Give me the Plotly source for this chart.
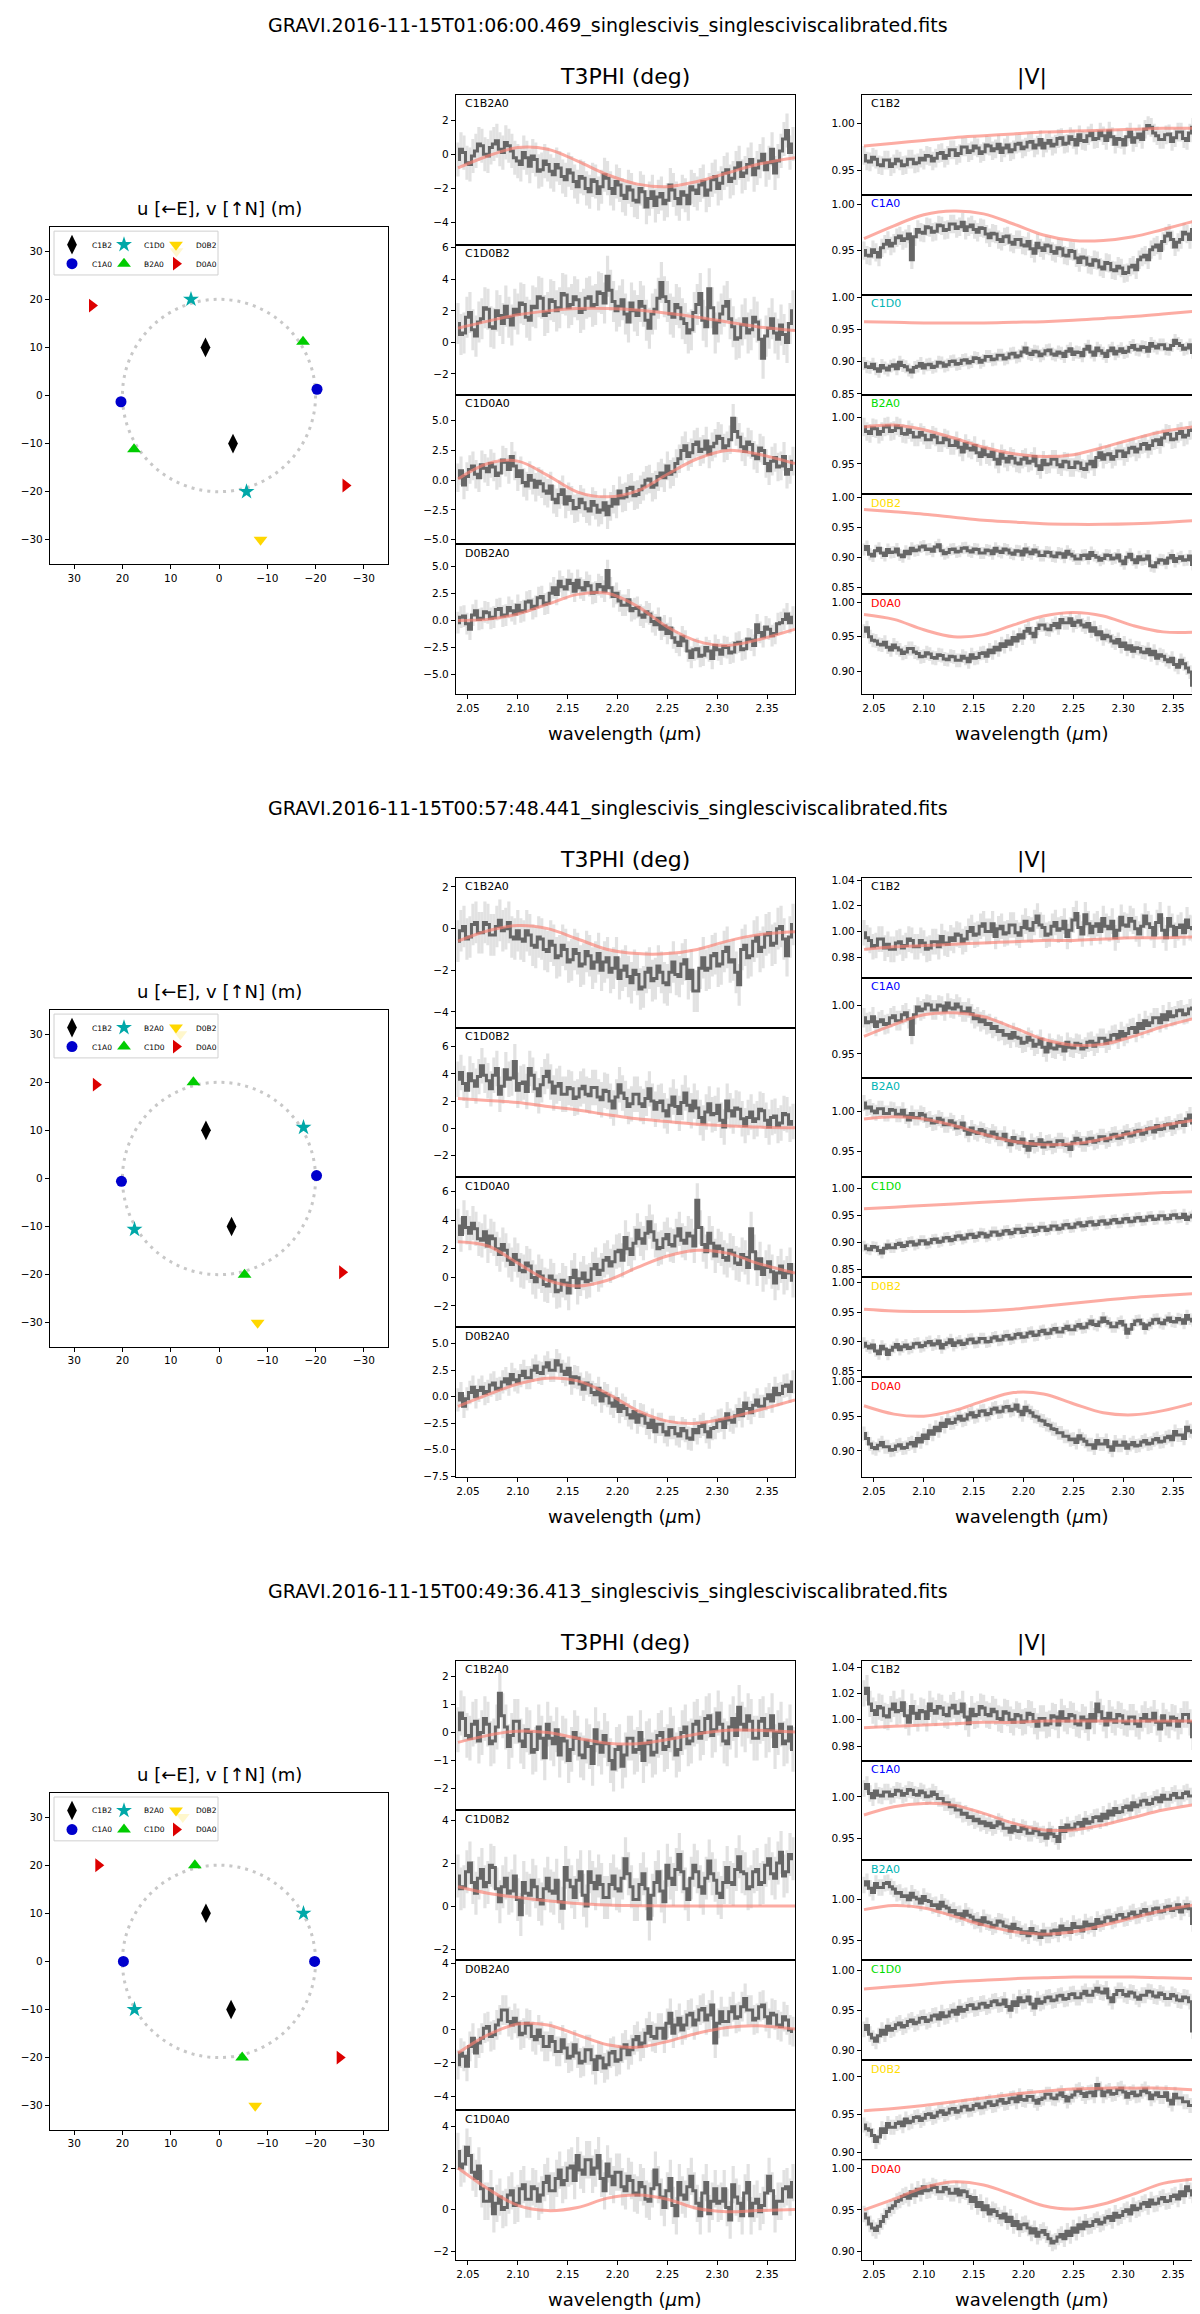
import plotly.graph_objects as go

# page size in px
W, H = 1200, 2314

WAVE = [2.040, 2.043, 2.046, 2.049, 2.052, 2.055, 2.058, 2.061, 2.064, 2.067,
        2.070, 2.073, 2.076, 2.079, 2.082, 2.085, 2.088, 2.091, 2.094, 2.097,
        2.100, 2.103, 2.106, 2.109, 2.112, 2.115, 2.118, 2.121, 2.124, 2.127,
        2.130, 2.133, 2.136, 2.139, 2.142, 2.145, 2.148, 2.151, 2.154, 2.157,
        2.160, 2.163, 2.166, 2.169, 2.172, 2.175, 2.178, 2.181, 2.184, 2.187,
        2.190, 2.193, 2.196, 2.199, 2.202, 2.205, 2.208, 2.211, 2.214, 2.217,
        2.220, 2.223, 2.226, 2.229, 2.232, 2.235, 2.238, 2.241, 2.244, 2.247,
        2.250, 2.253, 2.256, 2.259, 2.262, 2.265, 2.268, 2.271, 2.274, 2.277,
        2.280, 2.283, 2.286, 2.289, 2.292, 2.295, 2.298, 2.301, 2.304, 2.307,
        2.310, 2.313, 2.316, 2.319, 2.322, 2.325, 2.328, 2.331, 2.334, 2.337,
        2.340, 2.343, 2.346, 2.349, 2.352, 2.355, 2.358, 2.361, 2.364, 2.367,
        2.370, 2.373, 2.376]
MODEL_WAVE = [2.040, 2.070, 2.100, 2.130, 2.160, 2.190, 2.220, 2.250, 2.280, 2.310, 2.340, 2.378]

FILES = ["GRAVI.2016-11-15T01:06:00.469_singlescivis_singlesciviscalibrated.fits",
         "GRAVI.2016-11-15T00:57:48.441_singlescivis_singlesciviscalibrated.fits",
         "GRAVI.2016-11-15T00:49:36.413_singlescivis_singlesciviscalibrated.fits"]

T3_NAMES = [["C1B2A0", "C1D0B2", "C1D0A0", "D0B2A0"],
            ["C1B2A0", "C1D0B2", "C1D0A0", "D0B2A0"],
            ["C1B2A0", "C1D0B2", "D0B2A0", "C1D0A0"]]
V_NAMES = [["C1B2", "C1A0", "C1D0", "B2A0", "D0B2", "D0A0"],
           ["C1B2", "C1A0", "B2A0", "C1D0", "D0B2", "D0A0"],
           ["C1B2", "C1A0", "B2A0", "C1D0", "D0B2", "D0A0"]]

# ---------- block 1 : 01:06:00 ----------
B1_T3_1 = [-0.3, 0.3, 0.1, -0.5, -0.6, -0.1, 0.2, 0.6, 0.5, 0.0,
           -0.1, 0.4, 0.6, 0.8, 0.3, 0.1, 0.7, 0.5, 0.2, -0.2,
           -0.4, -0.6, 0.1, -0.2, -0.7, -0.1, -0.3, -1.0, -0.9, -0.4,
           -0.6, -1.0, -1.2, -0.6, -0.8, -1.3, -1.5, -0.9, -1.1, -1.6,
           -1.9, -1.3, -1.4, -2.0, -2.2, -1.5, -1.6, -2.3, -1.9, -1.2,
           -1.4, -2.0, -2.3, -1.6, -1.8, -2.4, -2.6, -1.9, -2.1, -2.7,
           -2.8, -2.0, -2.2, -3.1, -2.6, -2.2, -3.0, -2.5, -2.3, -2.9,
           -2.7, -1.8, -2.1, -2.6, -2.9, -2.2, -2.4, -2.9, -1.9, -2.1,
           -2.3, -1.8, -1.6, -2.4, -2.1, -1.5, -1.3, -2.0, -1.7, -1.1,
           -0.9, -1.6, -1.4, -0.8, -0.5, -1.3, -1.1, -0.6, -0.3, -1.2,
           -0.8, -0.4, 0.0, -0.9, -0.5, 0.3, -1.1, -0.4, 0.2, 0.9,
           1.4, 0.1, 0.6]
B1_T3_2 = [1.2, 0.5, 0.6, 1.6, 1.9, 0.8, 0.4, 1.3, 1.5, 2.2,
           2.1, 1.0, 0.9, 2.0, 1.7, 1.2, 2.3, 1.6, 1.1, 2.1,
           1.8, 2.5, 2.4, 1.6, 1.4, 2.3, 2.2, 2.9, 2.8, 1.7,
           1.9, 2.7, 2.6, 2.0, 2.2, 3.1, 3.0, 2.2, 2.4, 2.9,
           2.7, 1.9, 2.1, 2.8, 2.9, 2.3, 2.4, 3.2, 3.1, 2.5,
           4.2, 3.3, 2.6, 2.0, 2.3, 2.7, 1.8, 1.3, 2.5, 2.0,
           1.7, 2.6, 2.3, 1.4, 0.9, 1.8, 2.1, 2.8, 3.8, 2.9,
           2.6, 1.8, 1.6, 2.4, 2.2, 1.5, 1.2, 0.6, 0.8, 1.9,
           2.4, 3.1, 1.4, 1.0, 3.4, 2.2, 0.6, 1.3, 1.8, 2.3,
           2.6, 1.5, 1.0, 0.2, 0.3, 1.1, 1.5, 0.6, 0.8, 1.6,
           1.3, 0.2, -1.0, 0.4, 0.9, 1.5, 0.6, 0.2, 1.1, 0.5,
           0.0, 1.2, 2.0]
B1_T3_3 = [0.2, 0.8, -0.4, 0.3, 0.9, 1.2, 0.5, 0.2, 1.3, 1.0,
           0.7, 1.4, 1.1, 0.4, 0.6, 1.7, 1.5, 0.9, 2.0, 1.2,
           0.3, 0.8, -0.2, -0.5, 0.4, 0.0, -0.6, -0.1, -0.3, -0.9,
           -1.1, -0.5, -1.6, -1.9, -1.2, -0.8, -2.0, -1.4, -1.7, -2.4,
           -2.3, -1.6, -1.9, -2.4, -2.6, -1.8, -2.1, -2.7, -2.5, -1.9,
           -2.9, -2.2, -1.6, -2.0, -0.9, -1.5, -1.4, -0.7, -0.6, -1.3,
           -1.2, -0.8, -0.5, 0.0, 0.1, -0.6, -0.4, 0.3, 0.6, 0.2,
           1.2, 0.5, 0.7, 1.4, 1.8, 2.5, 2.9, 2.0, 2.3, 3.0,
           3.2, 2.4, 2.6, 3.3, 2.2, 2.8, 3.1, 3.7, 3.5, 2.7,
           2.9, 3.4, 5.2, 4.1, 3.6, 2.8, 2.4, 3.2, 3.0, 2.1,
           1.8, 2.7, 2.5, 1.4, 0.8, 1.6, 1.9, 1.1, 1.2, 2.0,
           0.5, 0.9, 1.6]
B1_T3_4 = [-0.2, 0.3, 0.4, -0.3, -0.8, 0.5, 0.9, 0.1, 0.2, 0.8,
           0.7, 0.2, 0.3, 1.0, 1.1, 0.4, 0.5, 1.2, 0.9, 0.6,
           1.4, 0.8, 0.9, 1.7, 1.8, 1.1, 1.3, 2.1, 2.2, 1.5,
           1.6, 2.5, 3.0, 2.4, 3.6, 3.1, 2.9, 3.7, 3.4, 2.7,
           3.7, 3.0, 2.8, 3.5, 3.2, 2.5, 2.6, 3.3, 3.1, 2.7,
           4.6, 3.0, 2.2, 2.5, 1.8, 1.4, 1.4, 1.9, 0.9, 1.1,
           1.2, 0.5, 0.3, 0.8, 0.6, -0.1, -0.4, 0.2, -0.8, -0.5,
           -1.2, -0.7, -1.6, -2.0, -2.3, -1.5, -1.9, -2.8, -3.4, -2.7,
           -2.6, -3.3, -3.2, -2.5, -2.8, -3.5, -2.3, -2.7, -3.1, -2.4,
           -2.5, -3.0, -2.9, -2.1, -2.0, -2.7, -2.6, -1.7, -1.8, -2.3,
           -0.4, -1.1, -1.5, -0.6, -0.8, -1.4, -1.2, -0.3, -0.2, 0.1,
           0.6, -0.2, 0.3]
B1_V_1 = [0.966, 0.960, 0.959, 0.964, 0.962, 0.956, 0.955, 0.961, 0.961, 0.954,
          0.957, 0.962, 0.960, 0.955, 0.956, 0.962, 0.962, 0.957, 0.958, 0.963,
          0.961, 0.966, 0.965, 0.960, 0.963, 0.968, 0.969, 0.963, 0.966, 0.972,
          0.972, 0.966, 0.968, 0.975, 0.975, 0.969, 0.971, 0.976, 0.974, 0.968,
          0.970, 0.977, 0.976, 0.971, 0.973, 0.978, 0.969, 0.974, 0.977, 0.970,
          0.972, 0.978, 0.979, 0.973, 0.975, 0.980, 0.981, 0.974, 0.977, 0.983,
          0.974, 0.979, 0.982, 0.976, 0.978, 0.984, 0.985, 0.978, 0.979, 0.986,
          0.983, 0.977, 0.988, 0.982, 0.981, 0.987, 0.990, 0.983, 0.984, 0.991,
          0.987, 0.982, 0.992, 0.986, 0.978, 0.984, 0.983, 0.977, 0.986, 0.991,
          0.980, 0.985, 0.989, 0.983, 0.994, 0.998, 0.996, 0.990, 0.987, 0.983,
          0.983, 0.988, 0.989, 0.981, 0.985, 0.991, 0.991, 0.984, 0.982, 0.990,
          0.996, 0.987, 1.006]
B1_V_2 = [0.950, 0.945, 0.944, 0.951, 0.948, 0.943, 0.953, 0.957, 0.961, 0.955,
          0.958, 0.964, 0.966, 0.961, 0.963, 0.968, 0.940, 0.965, 0.973, 0.970,
          0.969, 0.976, 0.975, 0.970, 0.971, 0.978, 0.977, 0.972, 0.973, 0.979,
          0.979, 0.974, 0.976, 0.981, 0.972, 0.976, 0.978, 0.973, 0.970, 0.975,
          0.974, 0.968, 0.964, 0.969, 0.968, 0.962, 0.960, 0.965, 0.966, 0.959,
          0.957, 0.962, 0.962, 0.956, 0.955, 0.960, 0.952, 0.947, 0.958, 0.953,
          0.950, 0.956, 0.955, 0.949, 0.947, 0.953, 0.952, 0.945, 0.944, 0.950,
          0.949, 0.942, 0.937, 0.943, 0.942, 0.935, 0.934, 0.940, 0.939, 0.932,
          0.930, 0.937, 0.936, 0.929, 0.928, 0.933, 0.931, 0.925, 0.926, 0.932,
          0.934, 0.929, 0.940, 0.943, 0.945, 0.940, 0.951, 0.954, 0.956, 0.950,
          0.960, 0.966, 0.969, 0.962, 0.954, 0.959, 0.962, 0.970, 0.968, 0.962,
          0.973, 0.978, 0.985]
B1_V_3 = [0.897, 0.892, 0.891, 0.896, 0.889, 0.885, 0.894, 0.890, 0.887, 0.893,
          0.895, 0.889, 0.899, 0.894, 0.892, 0.887, 0.884, 0.891, 0.893, 0.897,
          0.890, 0.895, 0.896, 0.891, 0.893, 0.899, 0.898, 0.893, 0.895, 0.900,
          0.901, 0.896, 0.897, 0.902, 0.903, 0.898, 0.900, 0.906, 0.905, 0.899,
          0.902, 0.908, 0.908, 0.903, 0.904, 0.910, 0.910, 0.904, 0.906, 0.912,
          0.913, 0.907, 0.909, 0.915, 0.921, 0.913, 0.911, 0.916, 0.915, 0.909,
          0.912, 0.917, 0.918, 0.912, 0.910, 0.915, 0.913, 0.908, 0.916, 0.920,
          0.911, 0.915, 0.914, 0.909, 0.919, 0.924, 0.915, 0.910, 0.921, 0.917,
          0.913, 0.908, 0.917, 0.921, 0.912, 0.916, 0.920, 0.914, 0.916, 0.922,
          0.925, 0.919, 0.918, 0.923, 0.922, 0.916, 0.928, 0.924, 0.921, 0.926,
          0.926, 0.920, 0.919, 0.925, 0.933, 0.928, 0.925, 0.919, 0.921, 0.926,
          0.914, 0.908, 0.920]
B1_V_4 = [0.990, 0.985, 0.983, 0.989, 0.988, 0.982, 0.985, 0.990, 0.991, 0.985,
          0.986, 0.991, 0.989, 0.983, 0.982, 0.987, 0.984, 0.979, 0.979, 0.984,
          0.981, 0.976, 0.976, 0.981, 0.979, 0.973, 0.973, 0.978, 0.976, 0.970,
          0.970, 0.975, 0.968, 0.963, 0.972, 0.967, 0.965, 0.970, 0.962, 0.958,
          0.966, 0.960, 0.958, 0.963, 0.955, 0.950, 0.961, 0.956, 0.952, 0.958,
          0.956, 0.951, 0.950, 0.955, 0.957, 0.951, 0.953, 0.958, 0.948, 0.944,
          0.954, 0.949, 0.950, 0.955, 0.955, 0.949, 0.947, 0.953, 0.952, 0.946,
          0.946, 0.952, 0.951, 0.945, 0.944, 0.950, 0.953, 0.947, 0.957, 0.962,
          0.955, 0.960, 0.961, 0.955, 0.958, 0.964, 0.964, 0.958, 0.962, 0.967,
          0.968, 0.963, 0.966, 0.971, 0.972, 0.966, 0.970, 0.975, 0.976, 0.971,
          0.978, 0.983, 0.982, 0.976, 0.977, 0.983, 0.985, 0.979, 0.981, 0.986,
          0.987, 0.981, 0.983]
B1_V_5 = [0.913, 0.918, 0.905, 0.902, 0.911, 0.915, 0.907, 0.903, 0.913, 0.908,
          0.909, 0.914, 0.904, 0.901, 0.910, 0.906, 0.915, 0.911, 0.912, 0.917,
          0.919, 0.913, 0.914, 0.910, 0.917, 0.921, 0.911, 0.906, 0.908, 0.913,
          0.914, 0.909, 0.910, 0.915, 0.916, 0.911, 0.909, 0.914, 0.913, 0.907,
          0.907, 0.912, 0.911, 0.906, 0.915, 0.910, 0.908, 0.914, 0.912, 0.907,
          0.905, 0.911, 0.910, 0.904, 0.914, 0.909, 0.906, 0.912, 0.909, 0.903,
          0.903, 0.909, 0.908, 0.902, 0.901, 0.907, 0.906, 0.900, 0.910, 0.905,
          0.902, 0.897, 0.897, 0.903, 0.904, 0.898, 0.908, 0.903, 0.900, 0.895,
          0.898, 0.904, 0.903, 0.897, 0.899, 0.904, 0.894, 0.889, 0.900, 0.905,
          0.896, 0.891, 0.901, 0.896, 0.897, 0.902, 0.886, 0.884, 0.891, 0.896,
          0.895, 0.890, 0.899, 0.903, 0.893, 0.898, 0.901, 0.895, 0.896, 0.902,
          0.888, 0.893, 0.899]
B1_V_6 = [0.958, 0.963, 0.950, 0.945, 0.944, 0.939, 0.938, 0.942, 0.935, 0.931,
          0.938, 0.934, 0.931, 0.926, 0.928, 0.933, 0.933, 0.928, 0.926, 0.921,
          0.922, 0.927, 0.925, 0.920, 0.919, 0.924, 0.923, 0.918, 0.917, 0.922,
          0.921, 0.916, 0.916, 0.922, 0.919, 0.914, 0.924, 0.919, 0.920, 0.926,
          0.927, 0.922, 0.931, 0.927, 0.935, 0.931, 0.940, 0.936, 0.944, 0.939,
          0.949, 0.944, 0.953, 0.948, 0.958, 0.962, 0.955, 0.950, 0.962, 0.967,
          0.967, 0.961, 0.960, 0.966, 0.969, 0.963, 0.975, 0.970, 0.970, 0.976,
          0.966, 0.971, 0.973, 0.967, 0.964, 0.969, 0.958, 0.963, 0.953, 0.957,
          0.947, 0.952, 0.950, 0.944, 0.941, 0.946, 0.936, 0.941, 0.932, 0.937,
          0.929, 0.934, 0.933, 0.928, 0.927, 0.932, 0.924, 0.929, 0.919, 0.924,
          0.922, 0.917, 0.914, 0.919, 0.910, 0.906, 0.916, 0.911, 0.905, 0.899,
          0.880, 0.890, 0.903]

B1_T3_MOD = [[-0.8, -0.1, 0.4, 0.3, -0.4, -1.2, -1.75, -1.9, -1.6, -1.1, -0.6, -0.2],
             [0.9, 1.35, 1.75, 2.0, 2.15, 2.15, 2.05, 1.85, 1.6, 1.3, 1.0, 0.75],
             [0.1, 1.4, 1.6, 0.4, -1.0, -1.4, -0.9, 0.5, 1.8, 2.5, 2.2, 1.4],
             [0.0, 0.1, 0.6, 1.5, 2.4, 2.5, 1.3, -0.6, -1.9, -2.3, -1.8, -0.8]]
B1_V_MOD = [[0.976, 0.979, 0.982, 0.985, 0.987, 0.989, 0.991, 0.992, 0.993, 0.994, 0.995, 0.995],
            [0.963, 0.977, 0.989, 0.993, 0.990, 0.979, 0.967, 0.961, 0.961, 0.965, 0.973, 0.984],
            [0.962, 0.961, 0.960, 0.960, 0.960, 0.961, 0.962, 0.964, 0.967, 0.970, 0.974, 0.979],
            [0.990, 0.992, 0.987, 0.978, 0.968, 0.961, 0.958, 0.960, 0.968, 0.977, 0.985, 0.991],
            [0.980, 0.976, 0.972, 0.967, 0.962, 0.959, 0.956, 0.955, 0.955, 0.956, 0.958, 0.962],
            [0.982, 0.975, 0.960, 0.950, 0.953, 0.967, 0.980, 0.985, 0.980, 0.966, 0.957, 0.957]]

# ---------- block 2 : 00:57:48 ----------
B2_T3_1 = [-0.6, -0.1, 0.1, -0.5, -0.4, 0.2, 0.3, -0.2, -0.2, 0.3,
           0.2, -0.3, -0.3, 0.1, 0.4, -0.1, 0.0, 0.3, -0.4, -0.5,
           -0.1, -0.5, -0.6, -0.1, -0.3, -0.8, -0.9, -0.4, -0.5, -1.0,
           -1.1, -0.6, -0.8, -1.4, -1.3, -0.8, -1.0, -1.6, -1.5, -1.0,
           -1.2, -1.8, -1.7, -1.1, -1.3, -1.9, -1.6, -1.2, -2.0, -1.6,
           -1.4, -2.1, -1.9, -1.4, -2.4, -2.0, -1.8, -2.3, -2.6, -2.0,
           -2.2, -2.9, -2.8, -2.1, -1.9, -2.5, -2.4, -1.8, -2.1, -2.6,
           -2.7, -2.1, -1.6, -2.2, -2.3, -1.7, -1.5, -2.4, -2.0, -3.0,
           -3.0, -1.9, -1.4, -2.0, -1.9, -1.3, -1.2, -1.8, -1.7, -1.1,
           -0.9, -1.6, -1.5, -2.1, -2.7, -1.0, -0.8, -1.4, -1.3, -0.6,
           -0.4, -1.1, -0.9, -0.3, -0.2, -0.8, -0.7, 0.0, 0.1, -0.5,
           -1.3, -0.4, 0.2]
B2_T3_2 = [3.6, 4.1, 3.3, 2.8, 4.0, 3.5, 3.1, 3.8, 4.6, 3.9,
           3.5, 2.9, 3.9, 4.4, 2.5, 3.1, 4.3, 3.6, 3.7, 4.9,
           2.8, 3.3, 3.4, 2.7, 4.4, 3.9, 2.9, 2.4, 3.2, 3.8,
           4.2, 3.4, 2.6, 3.1, 3.3, 2.5, 2.5, 3.0, 2.9, 2.2,
           2.3, 2.9, 3.1, 2.5, 2.4, 3.0, 3.0, 2.3, 2.1, 2.8,
           2.7, 2.0, 1.5, 2.3, 3.2, 2.6, 2.2, 1.6, 1.8, 2.5,
           2.5, 1.8, 1.6, 2.2, 2.9, 2.0, 1.4, 1.9, 2.0, 1.3,
           0.9, 1.7, 2.3, 1.6, 1.1, 1.9, 2.6, 1.7, 1.3, 2.0,
           1.5, 0.8, 0.4, 1.2, 1.8, 1.0, 1.1, 1.7, 0.6, 0.1,
           2.0, 1.3, 0.9, 1.5, 1.4, 0.7, 0.2, 0.8, 1.2, 0.5,
           0.7, 1.4, 1.3, 0.6, 0.1, 0.8, 0.9, 0.2, 0.4, 1.1,
           1.0, 0.3, 0.5]
B2_T3_3 = [3.6, 3.0, 4.2, 3.5, 3.1, 3.8, 3.4, 2.7, 2.6, 3.2,
           2.2, 2.9, 2.7, 2.0, 1.6, 2.3, 1.9, 1.2, 0.9, 1.6,
           1.2, 0.5, 0.4, 1.0, 0.8, 0.0, -0.3, 0.4, 0.1, -0.5,
           -0.6, 0.1, -0.2, -1.0, -0.9, -0.2, -0.4, -1.1, 0.0, 0.5,
           -0.7, -0.1, 0.3, -0.3, -0.2, 0.6, 0.9, 0.2, 0.5, 1.2,
           1.4, 0.8, 1.1, 1.8, 1.9, 1.2, 2.8, 2.0, 1.6, 2.4,
           3.3, 2.7, 2.4, 3.1, 3.9, 3.2, 2.6, 2.0, 2.1, 2.7,
           3.0, 2.3, 2.2, 2.9, 3.4, 2.6, 2.4, 3.1, 2.9, 2.2,
           5.4, 3.5, 2.3, 1.8, 3.1, 2.4, 1.5, 2.2, 2.0, 1.4,
           1.2, 1.9, 1.7, 1.0, 0.9, 1.6, 1.4, 0.7, 3.4, 1.8,
           0.6, 1.3, 0.2, 0.7, 1.1, 0.4, -0.4, 0.3, 0.8, 0.0,
           0.3, 0.9, -0.2]
B2_T3_4 = [-0.3, 0.3, -0.9, -0.2, 0.4, 0.9, 0.0, 0.6, 0.9, 0.3,
           0.5, 1.1, 1.3, 0.7, 0.8, 1.4, 1.7, 1.2, 2.1, 1.6,
           1.4, 2.0, 2.4, 1.8, 1.8, 2.5, 2.9, 2.3, 2.2, 2.8,
           3.2, 2.5, 2.5, 3.4, 3.0, 2.4, 2.1, 2.7, 1.3, 1.9,
           1.8, 1.2, 0.7, 1.3, 1.1, 0.4, 0.2, 0.8, -0.4, 0.3,
           0.1, -0.6, -0.9, -0.2, -1.4, -0.8, -1.1, -1.7, -2.0, -1.4,
           -2.4, -1.7, -1.8, -2.5, -2.9, -2.2, -3.3, -2.6, -2.6, -3.3,
           -3.6, -2.9, -2.9, -3.5, -3.7, -3.0, -3.2, -3.9, -4.0, -3.1,
           -3.4, -2.8, -2.6, -3.3, -3.8, -3.0, -2.9, -2.3, -2.2, -2.9,
           -1.6, -2.2, -2.4, -1.8, -1.2, -1.8, -0.6, -1.1, -1.5, -0.8,
           -0.3, -0.9, -0.9, -0.2, 0.2, -0.4, 0.8, 0.2, 0.3, 1.0,
           1.1, 0.5, 1.4]
B2_V_1 = [0.999, 0.995, 0.993, 0.988, 0.989, 0.994, 0.994, 0.987, 0.990, 0.986,
          0.986, 0.991, 0.992, 0.987, 0.989, 0.994, 0.993, 0.988, 0.988, 0.993,
          0.991, 0.986, 0.987, 0.992, 0.992, 0.988, 0.996, 0.991, 0.990, 0.995,
          0.993, 0.998, 0.997, 0.992, 0.994, 1.000, 1.003, 0.997, 0.998, 1.004,
          1.006, 1.000, 1.000, 1.006, 0.996, 1.002, 1.004, 0.998, 0.999, 1.005,
          1.005, 0.999, 0.997, 1.003, 1.008, 1.002, 1.001, 1.007, 1.012, 1.005,
          1.003, 0.997, 0.998, 1.004, 1.007, 1.001, 1.002, 1.008, 0.996, 1.001,
          1.009, 1.014, 1.003, 0.998, 1.013, 1.006, 0.999, 1.004, 1.006, 1.000,
          1.010, 1.004, 1.002, 1.008, 0.995, 1.001, 1.011, 1.005, 1.004, 1.010,
          1.008, 1.002, 0.998, 1.004, 1.012, 1.006, 1.003, 0.997, 1.007, 1.013,
          1.001, 0.995, 1.010, 1.004, 0.997, 1.003, 1.005, 0.999, 1.009, 1.003,
          1.002, 1.008, 1.006]
B2_V_2 = [0.987, 0.982, 0.983, 0.988, 0.978, 0.983, 0.985, 0.980, 0.981, 0.987,
          0.989, 0.984, 0.984, 0.990, 0.992, 0.986, 0.970, 0.990, 0.998, 0.994,
          0.996, 1.001, 1.000, 0.995, 0.995, 1.000, 0.999, 0.994, 1.002, 0.997,
          0.996, 1.001, 0.998, 0.993, 0.993, 0.997, 0.991, 0.986, 0.988, 0.983,
          0.985, 0.980, 0.981, 0.976, 0.978, 0.973, 0.974, 0.969, 0.970, 0.966,
          0.972, 0.967, 0.966, 0.961, 0.962, 0.967, 0.964, 0.958, 0.960, 0.965,
          0.957, 0.952, 0.961, 0.956, 0.955, 0.960, 0.958, 0.953, 0.962, 0.957,
          0.956, 0.961, 0.960, 0.955, 0.957, 0.962, 0.963, 0.958, 0.961, 0.966,
          0.966, 0.961, 0.964, 0.969, 0.970, 0.965, 0.973, 0.968, 0.971, 0.976,
          0.977, 0.972, 0.981, 0.976, 0.984, 0.979, 0.982, 0.987, 0.987, 0.982,
          0.990, 0.985, 0.993, 0.988, 0.989, 0.994, 0.995, 0.990, 0.991, 0.996,
          0.997, 0.992, 0.990]
B2_V_3 = [1.010, 1.004, 1.005, 1.000, 0.998, 1.003, 1.003, 0.997, 0.997, 1.002,
          1.001, 0.996, 0.996, 1.001, 0.994, 0.989, 0.997, 0.992, 0.992, 0.997,
          0.995, 0.989, 0.990, 0.985, 0.986, 0.991, 0.989, 0.983, 0.983, 0.988,
          0.985, 0.979, 0.980, 0.985, 0.976, 0.971, 0.979, 0.974, 0.972, 0.977,
          0.975, 0.970, 0.969, 0.974, 0.971, 0.966, 0.966, 0.971, 0.963, 0.958,
          0.967, 0.962, 0.960, 0.965, 0.956, 0.951, 0.962, 0.957, 0.959, 0.964,
          0.955, 0.960, 0.961, 0.956, 0.958, 0.963, 0.963, 0.958, 0.957, 0.952,
          0.961, 0.966, 0.964, 0.959, 0.959, 0.965, 0.966, 0.961, 0.963, 0.968,
          0.968, 0.963, 0.965, 0.970, 0.971, 0.966, 0.967, 0.972, 0.974, 0.969,
          0.970, 0.975, 0.976, 0.971, 0.973, 0.978, 0.979, 0.974, 0.982, 0.977,
          0.978, 0.983, 0.984, 0.979, 0.981, 0.986, 0.987, 0.982, 0.990, 0.995,
          0.985, 0.990, 0.992]
B2_V_4 = [0.893, 0.888, 0.886, 0.892, 0.891, 0.885, 0.880, 0.889, 0.895, 0.890,
          0.890, 0.896, 0.898, 0.892, 0.894, 0.900, 0.901, 0.895, 0.897, 0.903,
          0.903, 0.897, 0.899, 0.905, 0.906, 0.900, 0.902, 0.908, 0.909, 0.903,
          0.905, 0.911, 0.912, 0.906, 0.908, 0.914, 0.915, 0.909, 0.911, 0.917,
          0.916, 0.910, 0.913, 0.919, 0.919, 0.913, 0.915, 0.921, 0.922, 0.916,
          0.918, 0.924, 0.924, 0.918, 0.920, 0.926, 0.926, 0.920, 0.922, 0.928,
          0.928, 0.922, 0.924, 0.930, 0.930, 0.924, 0.926, 0.932, 0.933, 0.927,
          0.928, 0.934, 0.936, 0.930, 0.931, 0.937, 0.938, 0.932, 0.933, 0.939,
          0.940, 0.934, 0.935, 0.941, 0.942, 0.936, 0.937, 0.943, 0.944, 0.938,
          0.939, 0.945, 0.946, 0.940, 0.941, 0.947, 0.948, 0.942, 0.943, 0.949,
          0.949, 0.943, 0.944, 0.950, 0.951, 0.945, 0.946, 0.952, 0.942, 0.947,
          0.950, 0.944, 0.938]
B2_V_5 = [0.897, 0.892, 0.889, 0.894, 0.884, 0.879, 0.892, 0.887, 0.878, 0.885,
          0.890, 0.895, 0.886, 0.891, 0.894, 0.888, 0.890, 0.896, 0.897, 0.891,
          0.893, 0.898, 0.900, 0.894, 0.896, 0.901, 0.889, 0.895, 0.898, 0.903,
          0.893, 0.898, 0.901, 0.895, 0.897, 0.903, 0.904, 0.898, 0.899, 0.905,
          0.905, 0.899, 0.900, 0.906, 0.908, 0.902, 0.903, 0.909, 0.910, 0.904,
          0.906, 0.912, 0.913, 0.907, 0.908, 0.914, 0.916, 0.910, 0.911, 0.917,
          0.919, 0.913, 0.914, 0.920, 0.922, 0.916, 0.916, 0.922, 0.926, 0.920,
          0.920, 0.926, 0.929, 0.923, 0.924, 0.930, 0.935, 0.929, 0.927, 0.933,
          0.940, 0.934, 0.931, 0.925, 0.925, 0.931, 0.934, 0.928, 0.914, 0.921,
          0.929, 0.935, 0.936, 0.930, 0.922, 0.928, 0.931, 0.937, 0.938, 0.932,
          0.930, 0.936, 0.940, 0.934, 0.933, 0.939, 0.937, 0.931, 0.944, 0.938,
          0.935, 0.941, 0.928]
B2_V_6 = [0.925, 0.918, 0.910, 0.905, 0.903, 0.908, 0.912, 0.906, 0.906, 0.901,
          0.902, 0.907, 0.909, 0.904, 0.905, 0.910, 0.912, 0.907, 0.918, 0.913,
          0.923, 0.918, 0.929, 0.924, 0.934, 0.929, 0.940, 0.935, 0.945, 0.940,
          0.941, 0.946, 0.950, 0.944, 0.946, 0.952, 0.955, 0.949, 0.951, 0.957,
          0.958, 0.952, 0.954, 0.960, 0.962, 0.956, 0.957, 0.963, 0.964, 0.958,
          0.960, 0.966, 0.957, 0.952, 0.963, 0.958, 0.955, 0.950, 0.949, 0.944,
          0.943, 0.938, 0.937, 0.932, 0.931, 0.926, 0.926, 0.921, 0.921, 0.916,
          0.917, 0.912, 0.922, 0.917, 0.914, 0.909, 0.909, 0.904, 0.915, 0.910,
          0.910, 0.915, 0.906, 0.901, 0.913, 0.908, 0.908, 0.913, 0.904, 0.909,
          0.912, 0.907, 0.908, 0.913, 0.915, 0.910, 0.911, 0.916, 0.918, 0.913,
          0.914, 0.919, 0.921, 0.916, 0.928, 0.923, 0.923, 0.918, 0.934, 0.929,
          0.927, 0.933, 0.932]

B2_T3_MOD = [[-0.6, -0.1, 0.15, 0.0, -0.5, -1.0, -1.2, -1.2, -1.0, -0.6, -0.3, -0.15],
             [2.2, 2.05, 1.9, 1.6, 1.35, 1.0, 0.7, 0.5, 0.3, 0.2, 0.1, 0.05],
             [2.5, 2.2, 1.0, -0.2, -0.6, -0.2, 0.7, 1.5, 1.9, 1.7, 1.0, 0.3],
             [-0.9, 0.2, 1.2, 1.75, 1.5, 0.3, -1.3, -2.3, -2.5, -2.0, -1.3, -0.3]]
B2_V_MOD = [[0.986, 0.988, 0.989, 0.990, 0.991, 0.992, 0.993, 0.993, 0.994, 0.995, 0.995, 0.996],
            [0.968, 0.980, 0.990, 0.992, 0.988, 0.977, 0.965, 0.959, 0.960, 0.968, 0.978, 0.988],
            [0.990, 0.993, 0.990, 0.982, 0.971, 0.962, 0.958, 0.959, 0.965, 0.973, 0.982, 0.990],
            [0.962, 0.965, 0.968, 0.971, 0.974, 0.977, 0.980, 0.983, 0.986, 0.989, 0.992, 0.994],
            [0.955, 0.952, 0.951, 0.951, 0.952, 0.955, 0.960, 0.965, 0.970, 0.975, 0.978, 0.982],
            [0.965, 0.953, 0.950, 0.958, 0.972, 0.984, 0.982, 0.968, 0.955, 0.952, 0.958, 0.972]]

# ---------- block 3 : 00:49:36 ----------
B3_T3_1 = [0.1, 0.7, 0.5, -0.1, -0.2, 0.3, 0.4, -0.3, 0.0, 0.5,
           0.3, -0.4, -0.3, 0.2, 1.4, 0.6, 0.2, -0.5, -0.1, 0.4,
           0.4, -0.3, -0.5, 0.1, 0.0, -0.7, -0.6, 0.2, -0.2, -0.9,
           0.3, -0.2, -0.4, 0.1, -0.8, -0.2, -0.3, -1.0, -0.6, 0.0,
           -0.2, -0.8, -0.9, -0.3, -0.5, -1.1, 0.1, -0.4, -0.7, -0.1,
           -0.4, -1.0, -1.3, -0.6, -0.5, -1.2, -0.8, -0.2, -0.2, -0.7,
           -0.6, 0.0, -1.0, -0.4, -0.3, -0.8, -0.7, -0.1, 0.0, -0.6,
           -0.5, 0.1, -0.2, -0.8, -0.6, 0.0, 0.2, -0.4, -0.3, 0.3,
           0.4, -0.2, 0.0, 0.5, 0.6, -0.1, 0.1, 0.7, 0.3, -0.3,
           -0.4, 0.2, 0.5, -0.1, 0.9, 0.3, 0.1, 0.6, 0.4, -0.2,
           -0.2, 0.4, 0.5, -0.1, 0.1, 0.6, -0.5, 0.0, 0.3, -0.4,
           -0.3, 0.2, -0.6]
B3_T3_2 = [1.4, 0.8, 0.9, 1.6, 2.0, 1.1, 0.6, 1.3, 1.7, 0.9,
           1.1, 1.9, 1.8, 0.8, 0.2, 0.9, 1.3, 0.6, 0.7, 1.4,
           0.3, -0.4, 1.1, 0.6, 0.5, 1.2, 0.9, 0.3, 0.1, 0.8,
           1.3, 0.7, 0.6, 1.2, 0.2, -0.1, 1.8, 1.2, 0.9, 0.4,
           1.2, 1.6, 0.5, 0.0, 1.6, 1.1, 0.8, 1.4, 1.0, 0.4,
           0.4, 1.0, 1.4, 0.8, 0.7, 1.3, 2.2, 1.5, 0.9, 0.3,
           0.3, 1.0, 1.5, 0.8, -0.6, 0.5, 1.1, 1.6, 0.7, 0.2,
           1.9, 1.3, 1.0, 1.7, 2.4, 1.6, 0.8, 0.3, 1.3, 1.9,
           1.6, 0.9, 0.6, 1.3, 2.1, 1.5, 1.2, 0.6, 0.4, 1.1,
           1.8, 1.1, 1.0, 1.7, 2.3, 1.6, 1.5, 0.8, 0.9, 1.6,
           1.7, 1.0, 1.1, 1.9, 2.2, 1.5, 1.3, 2.0, 2.5, 1.4,
           1.6, 2.4, 2.2]
B3_T3_3 = [-2.1, -1.4, -1.6, -2.2, -1.0, -0.5, -1.4, -0.8, -0.5, 0.1,
           0.2, -0.4, -0.3, 0.3, 0.6, 1.2, 1.2, 0.5, 0.3, 0.7,
           0.4, -0.3, -0.2, 0.4, 0.3, -0.4, -0.6, 0.0, -0.4, -1.0,
           -1.0, -0.4, -0.7, -1.3, -1.3, -0.6, -1.1, -1.7, -1.6, -0.9,
           -1.4, -2.0, -1.9, -1.2, -1.2, -1.8, -2.4, -1.6, -1.7, -2.3,
           -2.1, -1.4, -1.3, -1.9, -1.8, -1.1, -0.9, -1.5, -1.2, -0.6,
           -0.4, -1.0, -0.8, -0.2, 0.2, -0.4, -0.5, 0.1, 0.1, -0.5,
           0.4, 1.0, -0.2, 0.3, 0.7, 0.0, 0.3, 0.9, 1.0, 0.3,
           0.6, 1.2, 1.3, 0.6, 0.9, 1.5, -0.8, 0.4, 1.1, 0.5,
           0.5, 1.1, 1.4, 0.7, 0.8, 1.4, 1.9, 1.2, 1.2, 0.6,
           0.7, 1.4, 1.5, 0.8, 0.4, 1.0, 0.9, 0.3, 0.2, 0.8,
           0.6, 0.0, -0.1]
B3_T3_4 = [2.8, 2.0, 2.2, 3.0, 2.6, 1.8, 1.5, 2.1, 1.0, 0.4,
           0.4, 1.0, -0.2, 0.3, 0.6, 0.0, 0.1, 0.7, 0.9, 0.2,
           0.3, 1.0, 1.2, 0.5, 0.5, 1.1, 1.0, 0.4, 0.7, 1.3,
           1.6, 0.9, 0.9, 1.5, 1.9, 1.2, 1.4, 2.0, 2.1, 1.4,
           2.6, 1.9, 1.7, 2.4, 2.4, 1.7, 2.0, 2.6, 1.5, 0.9,
           2.2, 1.6, 1.2, 1.8, 1.8, 1.1, 0.9, 1.6, 1.4, 0.8,
           0.7, 1.3, 1.1, 0.5, 0.4, 1.0, 1.9, 1.2, 0.6, 0.1,
           0.9, 1.5, 0.2, -0.3, 1.3, 0.7, 0.5, 1.1, 1.6, 0.9,
           0.3, -0.3, 0.8, 1.3, -0.2, 0.4, 1.0, 0.3, 0.4, 1.0,
           0.1, -0.5, 1.2, 0.6, 0.3, -0.3, 0.8, 1.3, -0.3, 0.3,
           0.5, -0.1, 0.2, 0.8, 1.6, 0.9, -0.2, 0.4, 0.4, 1.0,
           1.1, 0.6, 1.3]
B3_V_1 = [1.020, 1.024, 1.012, 1.007, 1.004, 1.010, 1.009, 1.003, 1.002, 1.008,
          1.012, 1.006, 1.007, 1.013, 1.003, 0.998, 1.010, 1.005, 1.001, 1.007,
          1.006, 1.001, 1.012, 1.007, 1.005, 1.010, 1.009, 1.004, 1.003, 1.009,
          1.011, 1.005, 1.006, 1.012, 1.002, 0.997, 1.008, 1.003, 1.004, 1.010,
          1.009, 1.004, 1.003, 1.008, 1.006, 1.001, 1.000, 1.006, 1.005, 1.000,
          0.998, 1.004, 1.003, 0.998, 0.999, 1.005, 1.004, 0.999, 0.995, 1.001,
          1.001, 0.996, 0.997, 1.003, 1.002, 0.996, 1.006, 1.001, 0.999, 1.004,
          1.003, 0.997, 0.996, 1.002, 1.000, 0.994, 1.004, 0.999, 1.012, 1.006,
          1.001, 0.996, 1.005, 1.000, 0.998, 1.004, 1.003, 0.998, 0.997, 1.002,
          1.002, 0.997, 0.995, 1.001, 1.004, 0.999, 1.000, 1.005, 0.998, 0.993,
          1.003, 0.998, 0.996, 1.002, 1.001, 0.995, 0.999, 1.004, 1.004, 0.998,
          0.987, 0.996, 1.002]
B3_V_2 = [1.010, 1.015, 1.004, 0.999, 1.007, 1.002, 1.001, 1.006, 1.006, 1.001,
          1.003, 1.008, 1.007, 1.002, 1.004, 1.009, 1.008, 1.003, 1.002, 1.007,
          1.005, 1.000, 1.001, 1.006, 1.003, 0.998, 0.998, 0.993, 0.993, 0.988,
          0.989, 0.984, 0.984, 0.979, 0.980, 0.975, 0.976, 0.971, 0.973, 0.968,
          0.970, 0.965, 0.968, 0.963, 0.965, 0.970, 0.967, 0.962, 0.962, 0.957,
          0.964, 0.959, 0.958, 0.963, 0.961, 0.956, 0.956, 0.961, 0.959, 0.954,
          0.955, 0.950, 0.960, 0.955, 0.952, 0.946, 0.963, 0.958, 0.966, 0.961,
          0.962, 0.967, 0.969, 0.964, 0.973, 0.968, 0.970, 0.975, 0.976, 0.971,
          0.979, 0.974, 0.983, 0.978, 0.986, 0.981, 0.982, 0.987, 0.989, 0.984,
          0.993, 0.988, 0.990, 0.995, 0.996, 0.991, 0.992, 0.997, 0.999, 0.994,
          1.002, 0.997, 0.997, 1.002, 1.004, 0.999, 0.999, 1.004, 1.006, 1.001,
          1.001, 1.006, 1.004]
B3_V_3 = [1.018, 1.022, 1.014, 1.009, 1.020, 1.015, 1.015, 1.020, 1.021, 1.016,
          1.013, 1.008, 1.009, 1.004, 1.005, 1.000, 1.008, 1.003, 1.001, 0.996,
          1.004, 0.999, 0.998, 0.993, 0.994, 0.989, 0.997, 0.992, 0.990, 0.985,
          0.987, 0.982, 0.983, 0.978, 0.986, 0.981, 0.979, 0.974, 0.975, 0.970,
          0.978, 0.973, 0.972, 0.967, 0.969, 0.974, 0.973, 0.968, 0.967, 0.962,
          0.970, 0.965, 0.964, 0.959, 0.961, 0.956, 0.965, 0.960, 0.959, 0.954,
          0.962, 0.957, 0.957, 0.962, 0.963, 0.958, 0.968, 0.963, 0.965, 0.960,
          0.971, 0.966, 0.967, 0.962, 0.973, 0.968, 0.970, 0.965, 0.976, 0.971,
          0.973, 0.978, 0.979, 0.974, 0.976, 0.981, 0.982, 0.977, 0.978, 0.983,
          0.985, 0.980, 0.981, 0.986, 0.988, 0.983, 0.984, 0.989, 0.990, 0.985,
          0.986, 0.991, 0.992, 0.987, 0.989, 0.994, 0.985, 0.990, 0.994, 0.989,
          0.971, 0.982, 0.993]
B3_V_4 = [0.926, 0.931, 0.920, 0.915, 0.911, 0.918, 0.925, 0.920, 0.930, 0.925,
          0.927, 0.932, 0.934, 0.929, 0.931, 0.936, 0.938, 0.933, 0.935, 0.940,
          0.941, 0.936, 0.938, 0.943, 0.944, 0.939, 0.947, 0.942, 0.943, 0.948,
          0.950, 0.945, 0.954, 0.949, 0.951, 0.956, 0.957, 0.952, 0.953, 0.958,
          0.959, 0.954, 0.956, 0.961, 0.962, 0.957, 0.958, 0.963, 0.955, 0.950,
          0.961, 0.956, 0.966, 0.961, 0.962, 0.967, 0.958, 0.953, 0.964, 0.959,
          0.961, 0.966, 0.967, 0.962, 0.963, 0.968, 0.969, 0.964, 0.965, 0.970,
          0.971, 0.966, 0.966, 0.971, 0.974, 0.969, 0.969, 0.974, 0.978, 0.973,
          0.972, 0.977, 0.966, 0.961, 0.970, 0.975, 0.975, 0.970, 0.968, 0.973,
          0.972, 0.967, 0.964, 0.969, 0.969, 0.974, 0.973, 0.968, 0.967, 0.972,
          0.970, 0.965, 0.965, 0.970, 0.968, 0.963, 0.962, 0.967, 0.966, 0.961,
          0.924, 0.940, 0.948]
B3_V_5 = [0.936, 0.931, 0.929, 0.922, 0.914, 0.920, 0.931, 0.926, 0.938, 0.933,
          0.933, 0.938, 0.940, 0.935, 0.944, 0.939, 0.941, 0.946, 0.947, 0.942,
          0.945, 0.950, 0.951, 0.946, 0.948, 0.953, 0.955, 0.950, 0.952, 0.957,
          0.958, 0.953, 0.955, 0.960, 0.961, 0.956, 0.957, 0.962, 0.964, 0.959,
          0.960, 0.965, 0.967, 0.962, 0.963, 0.968, 0.970, 0.965, 0.966, 0.971,
          0.972, 0.967, 0.975, 0.970, 0.969, 0.974, 0.974, 0.969, 0.965, 0.970,
          0.972, 0.977, 0.977, 0.972, 0.971, 0.976, 0.979, 0.974, 0.968, 0.973,
          0.976, 0.981, 0.983, 0.978, 0.974, 0.979, 0.980, 0.975, 0.990, 0.984,
          0.975, 0.980, 0.982, 0.977, 0.978, 0.983, 0.985, 0.980, 0.973, 0.978,
          0.980, 0.975, 0.976, 0.981, 0.984, 0.979, 0.971, 0.976, 0.979, 0.974,
          0.974, 0.979, 0.969, 0.964, 0.977, 0.972, 0.972, 0.967, 0.967, 0.962,
          0.962, 0.957, 0.958]
B3_V_6 = [0.945, 0.940, 0.933, 0.928, 0.925, 0.930, 0.936, 0.942, 0.948, 0.952,
          0.955, 0.960, 0.962, 0.966, 0.968, 0.964, 0.972, 0.967, 0.975, 0.970,
          0.978, 0.973, 0.974, 0.979, 0.977, 0.972, 0.972, 0.977, 0.975, 0.970,
          0.970, 0.975, 0.968, 0.973, 0.972, 0.966, 0.960, 0.965, 0.954, 0.959,
          0.950, 0.955, 0.945, 0.950, 0.948, 0.943, 0.940, 0.945, 0.936, 0.941,
          0.931, 0.936, 0.927, 0.932, 0.933, 0.928, 0.922, 0.927, 0.918, 0.923,
          0.925, 0.920, 0.915, 0.910, 0.912, 0.917, 0.920, 0.915, 0.924, 0.919,
          0.928, 0.923, 0.932, 0.927, 0.935, 0.930, 0.931, 0.936, 0.938, 0.933,
          0.935, 0.940, 0.942, 0.937, 0.946, 0.941, 0.943, 0.948, 0.950, 0.945,
          0.955, 0.950, 0.952, 0.957, 0.959, 0.954, 0.962, 0.957, 0.958, 0.963,
          0.965, 0.960, 0.961, 0.966, 0.968, 0.963, 0.972, 0.967, 0.978, 0.973,
          0.968, 0.974, 0.975]

B3_T3_MOD = [[-0.35, -0.1, 0.05, 0.0, -0.2, -0.38, -0.4, -0.25, -0.05, 0.08, 0.08, 0.02],
             [0.9, 0.6, 0.4, 0.25, 0.12, 0.05, 0.02, 0.0, 0.0, 0.0, 0.0, 0.0],
             [-1.4, -0.3, 0.35, 0.3, -0.3, -0.9, -1.05, -0.7, -0.2, 0.15, 0.25, 0.05],
             [2.0, 1.0, 0.2, -0.05, 0.1, 0.55, 0.7, 0.5, 0.05, -0.1, -0.05, 0.0]]
B3_V_MOD = [[0.994, 0.995, 0.996, 0.997, 0.998, 0.998, 0.999, 0.999, 0.999, 0.999, 0.999, 0.999],
            [0.978, 0.988, 0.992, 0.990, 0.980, 0.968, 0.960, 0.960, 0.966, 0.975, 0.984, 0.992],
            [0.988, 0.993, 0.990, 0.980, 0.969, 0.961, 0.958, 0.961, 0.969, 0.978, 0.987, 0.995],
            [0.977, 0.980, 0.983, 0.986, 0.988, 0.990, 0.991, 0.992, 0.992, 0.992, 0.991, 0.990],
            [0.955, 0.958, 0.962, 0.967, 0.972, 0.977, 0.981, 0.984, 0.985, 0.985, 0.985, 0.982],
            [0.950, 0.963, 0.977, 0.984, 0.980, 0.968, 0.955, 0.951, 0.957, 0.969, 0.982, 0.988]]

# error bar half-lengths per panel
T3_ERR = [[1.0, 1.3, 1.2, 1.0], [1.0, 1.3, 1.2, 1.1], [0.8, 1.0, 0.9, 0.9]]
V_ERR = [[0.010] * 6, [0.010] * 6, [0.010] * 6]

# u,v points (m) for each baseline, both the point and its mirror
UV_U = [[[2.8, -2.9], [20.3, -20.3], [5.8, -5.7], [17.6, -17.4], [8.8, -8.6], [26.3, -26.2]],
        [[2.7, -2.6], [20.2, -20.2], [17.5, -17.5], [5.3, -5.3], [8.0, -8.0], [25.5, -25.5]],
        [[2.7, -2.5], [19.8, -19.8], [17.5, -17.5], [5.0, -4.8], [7.5, -7.5], [25.0, -25.0]]]
UV_V = [[[10.0, -10.0], [-1.3, 1.3], [20.0, -20.0], [-11.2, 11.2], [30.0, -30.0], [18.7, -18.7]],
        [[10.0, -10.0], [-0.6, 0.6], [-10.6, 10.6], [20.0, -20.0], [30.0, -30.0], [19.5, -19.5]],
        [[10.0, -10.0], [0.0, 0.0], [-10.0, 10.0], [20.0, -20.0], [30.0, -30.0], [20.0, -20.0]]]
R_CIRCLE = 20

T3_DATA = [[B1_T3_1, B1_T3_2, B1_T3_3, B1_T3_4],
           [B2_T3_1, B2_T3_2, B2_T3_3, B2_T3_4],
           [B3_T3_1, B3_T3_2, B3_T3_3, B3_T3_4]]
V_DATA = [[B1_V_1, B1_V_2, B1_V_3, B1_V_4, B1_V_5, B1_V_6],
          [B2_V_1, B2_V_2, B2_V_3, B2_V_4, B2_V_5, B2_V_6],
          [B3_V_1, B3_V_2, B3_V_3, B3_V_4, B3_V_5, B3_V_6]]
T3_MOD = [B1_T3_MOD, B2_T3_MOD, B3_T3_MOD]
V_MOD = [B1_V_MOD, B2_V_MOD, B3_V_MOD]

# axis ranges / ticks
T3_RANGE = [[[-5.3, 3.5], [-3.3, 6.2], [-5.4, 7.2], [-6.8, 7.0]],
            [[-4.75, 2.45], [-3.6, 7.4], [-3.5, 7.0], [-7.6, 6.55]],
            [[-2.78, 2.57], [-2.53, 4.45], [-4.86, 4.2], [-2.44, 4.78]]]
T3_DTICK = [[2, 2, 2.5, 2.5], [2, 2, 2, 2.5], [1, 2, 2, 2]]
V_RANGE = [[[0.924, 1.031], [0.902, 1.011], [0.849, 1.004], [0.917, 1.025], [0.838, 1.005], [0.867, 1.011]],
           [[0.964, 1.042], [0.926, 1.028], [0.917, 1.042], [0.835, 1.02], [0.839, 1.009], [0.862, 1.006]],
           [[0.969, 1.045], [0.923, 1.044], [0.926, 1.048], [0.887, 1.013], [0.889, 1.022], [0.889, 1.01]]]
V_DTICK = [[0.05] * 6, [0.02] + [0.05] * 5, [0.02] + [0.05] * 5]

COLORS = ["#000000", "#0000cc", "#00a8a8", "#00cc00", "#ffd700", "#dd0000"]
LABEL_COLORS = ["#000000", "#0000ff", "#00b4b4", "#00dd00", "#ffdd00", "#ff0000"]
SYMBOLS = ["diamond-tall", "circle", "star", "triangle-up", "triangle-down", "triangle-right"]
SIZES = [14, 11, 12, 12, 12, 12]

FONT = "DejaVu Sans"
DATA_COLOR = "#666666"
MODEL_COLOR = "rgba(250,128,114,0.65)"
ERR_COLOR = "#e2e2e2"
XR = [2.038, 2.378]

BLOCK_STEP = 786
PANEL_TOP = 83
PANEL_H = 602
T3_X = (448, 787)
V_X = (854, 1193)
UV_X = (42, 380)
UV_TOP = 216
UV_SIZE = 338


def fx(p):
    return p / W


def fy(p):
    return 1 - p / H


def label(text, xp, yp, size, color="black", xanchor="center"):
    return dict(text=text, x=fx(xp), y=fy(yp), xref="paper", yref="paper", showarrow=False,
                xanchor=xanchor, yanchor="middle", font=dict(size=size, family=FONT, color=color))


fig = go.Figure()
layout = dict(width=W, height=H, margin=dict(l=0, r=0, t=0, b=0),
              paper_bgcolor="white", plot_bgcolor="white",
              font=dict(family=FONT, color="black"))
annotations = []
shapes = []
n_ax = [0]

axis_base = dict(showline=True, mirror=True, linecolor="black", linewidth=1.2,
                 showgrid=False, zeroline=False, ticks="outside", ticklen=4,
                 tickwidth=1, tickcolor="black",
                 tickfont=dict(family=FONT, size=10.5, color="black"))


def new_axes(x0, x1, y0, y1, xopt, yopt):
    n_ax[0] += 1
    k = n_ax[0]
    xn = "xaxis" if k == 1 else "xaxis%d" % k
    yn = "yaxis" if k == 1 else "yaxis%d" % k
    xa = dict(axis_base, domain=[fx(x0), fx(x1)], anchor="y" if k == 1 else "y%d" % k)
    xa.update(xopt)
    ya = dict(axis_base, domain=[fy(y1), fy(y0)], anchor="x" if k == 1 else "x%d" % k)
    ya.update(yopt)
    layout[xn] = xa
    layout[yn] = ya
    return ("x" if k == 1 else "x%d" % k), ("y" if k == 1 else "y%d" % k)


def spectrum_panel(xref, yref, data, model, err):
    fig.add_trace(go.Scatter(x=WAVE, y=data, mode="markers", marker=dict(size=0.1, color=ERR_COLOR),
                             error_y=dict(type="constant", value=err, color=ERR_COLOR, thickness=3.2, width=0),
                             xaxis=xref, yaxis=yref, showlegend=False, hoverinfo="skip"))
    fig.add_trace(go.Scatter(x=WAVE, y=data, mode="lines", line=dict(color=DATA_COLOR, width=3, shape="hvh"),
                             xaxis=xref, yaxis=yref, showlegend=False))
    fig.add_trace(go.Scatter(x=MODEL_WAVE, y=model, mode="lines",
                             line=dict(color=MODEL_COLOR, width=3, shape="spline", smoothing=1.0),
                             xaxis=xref, yaxis=yref, showlegend=False))


for b in range(3):
    off = b * BLOCK_STEP
    top = PANEL_TOP + off
    bottom = top + PANEL_H

    annotations.append(label(FILES[b], W / 2, off + 14, 19))
    annotations.append(label("T3PHI (deg)", sum(T3_X) / 2, off + 65, 22))
    annotations.append(label("|V|", sum(V_X) / 2, off + 65, 22))
    for cx in (T3_X, V_X):
        annotations.append(label("wavelength (<i>μ</i>m)", sum(cx) / 2, bottom + 39, 18))

    # closure phase panels
    ph = PANEL_H / 4
    for i in range(4):
        y0 = top + i * ph
        last = i == 3
        xopt = dict(range=XR, tick0=2.05, dtick=0.05, tickformat=".2f",
                    showticklabels=last, ticks="outside" if last else "")
        yopt = dict(range=T3_RANGE[b][i], dtick=T3_DTICK[b][i],
                    tickformat=".1f" if T3_DTICK[b][i] == 2.5 else "d")
        xr, yr = new_axes(T3_X[0], T3_X[1], y0, y0 + ph, xopt, yopt)
        spectrum_panel(xr, yr, T3_DATA[b][i], T3_MOD[b][i], T3_ERR[b][i])
        annotations.append(label(T3_NAMES[b][i], T3_X[0] + 7, y0 + 9, 11, xanchor="left"))

    # visibility panels
    vh = PANEL_H / 6
    for j in range(6):
        y0 = top + j * vh
        last = j == 5
        xopt = dict(range=XR, tick0=2.05, dtick=0.05, tickformat=".2f",
                    showticklabels=last, ticks="outside" if last else "")
        yopt = dict(range=V_RANGE[b][j], dtick=V_DTICK[b][j], tickformat=".2f")
        xr, yr = new_axes(V_X[0], V_X[1], y0, y0 + vh, xopt, yopt)
        spectrum_panel(xr, yr, V_DATA[b][j], V_MOD[b][j], V_ERR[b][j])
        annotations.append(label(V_NAMES[b][j], V_X[0] + 7, y0 + 9, 11, color=LABEL_COLORS[j], xanchor="left"))

    # u,v plane
    ut = UV_TOP + off
    xopt = dict(range=[35, -35], dtick=10)
    yopt = dict(range=[-35, 35], dtick=10)
    xr, yr = new_axes(UV_X[0], UV_X[1], ut, ut + UV_SIZE, xopt, yopt)
    annotations.append(label("u [\u2190E], v [\u2191N] (m)", sum(UV_X) / 2, ut - 19, 18))
    shapes.append(dict(type="circle", xref=xr, yref=yr, x0=-R_CIRCLE, x1=R_CIRCLE, y0=-R_CIRCLE, y1=R_CIRCLE,
                       line=dict(color="#c8c8c8", width=3, dash="3px,5px"), layer="below"))
    # legend laid out as three columns of two
    col_of = [0, 0, 1, 1, 2, 2]
    for k in range(6):
        leg = "legend" if (b == 0 and col_of[k] == 0) else "legend%d" % (b * 3 + col_of[k] + 1)
        fig.add_trace(go.Scatter(x=UV_U[b][k], y=UV_V[b][k], mode="markers", name=V_NAMES[b][k],
                                 marker=dict(symbol=SYMBOLS[k], color=COLORS[k], size=SIZES[k], line=dict(width=0)),
                                 xaxis=xr, yaxis=yr, legend=leg, showlegend=True))
    for c in range(3):
        leg = "legend" if (b == 0 and c == 0) else "legend%d" % (b * 3 + c + 1)
        layout[leg] = dict(x=fx(UV_X[0] + 2 + c * 52), y=fy(ut + 3), xanchor="left", yanchor="top",
                           xref="paper", yref="paper", bgcolor="rgba(0,0,0,0)", borderwidth=0,
                           font=dict(size=7.5, family=FONT, color="black"), itemwidth=30,
                           tracegroupgap=0, orientation="v")
    shapes.append(dict(type="rect", xref="paper", yref="paper", x0=fx(UV_X[0] + 4), x1=fx(UV_X[0] + 168),
                       y0=fy(ut + 4), y1=fy(ut + 48), line=dict(color="#d0d0d0", width=1),
                       fillcolor="rgba(255,255,255,0.8)", layer="above"))

layout["annotations"] = annotations
layout["shapes"] = shapes
fig.update_layout(**layout)

fig.write_html("out.html")
